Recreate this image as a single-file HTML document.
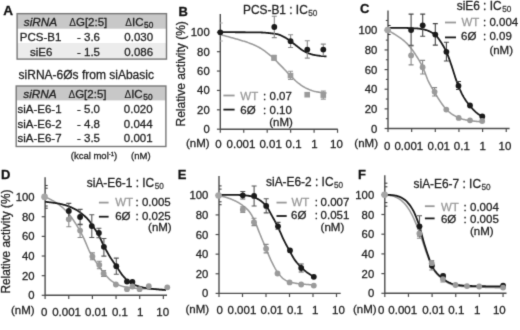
<!DOCTYPE html>
<html><head><meta charset="utf-8"><style>
html,body{margin:0;padding:0;background:#fff;}
svg{display:block;font-family:"Liberation Sans", sans-serif;will-change:transform;}
text{stroke:currentColor;stroke-width:0.28px;}
</style></head><body>
<svg width="520" height="330" viewBox="0 0 520 330">
<defs><filter id="soft" x="0" y="0" width="520" height="330" filterUnits="userSpaceOnUse" color-interpolation-filters="sRGB"><feConvolveMatrix order="3" kernelMatrix="1 6 1 6 36 6 1 6 1" divisor="64" edgeMode="duplicate"/></filter></defs>
<g filter="url(#soft)">
<rect width="520" height="330" fill="#fff"/>
<text x="3.3" y="15.1" font-size="13.6" text-anchor="start" fill="#111" color="#111" font-weight="bold">A</text>
<rect x="17.1" y="13.65" width="149.4" height="45.45" fill="#fff"/>
<rect x="17.1" y="13.65" width="149.4" height="15.05" fill="#c8c8c8"/>
<rect x="17.1" y="43" width="149.4" height="16.1" fill="#ececec"/>
<rect x="17.1" y="13.65" width="149.4" height="45.45" fill="none" stroke="#777" stroke-width="1.4"/>
<text x="40.5" y="25.7" font-size="11.8" text-anchor="middle" fill="#222" color="#222" font-style="italic">siRNA</text>
<text x="88.3" y="25.9" font-size="11.5" text-anchor="middle" fill="#222" color="#222" ><tspan font-size="10" style="stroke-width:0.1px">Δ</tspan>G[2:5]</text>
<text x="139.3" y="25.9" font-size="11.5" text-anchor="middle" fill="#222" color="#222" ><tspan font-size="10" style="stroke-width:0.1px">Δ</tspan>IC<tspan font-size="8.3" dx="0.6" dy="2.0">50</tspan></text>
<text x="40.6" y="40.7" font-size="11.5" text-anchor="middle" fill="#222" color="#222" >PCS-B1</text>
<text x="88.5" y="40.7" font-size="11.5" text-anchor="middle" fill="#222" color="#222" >- 3.6</text>
<text x="138.7" y="40.7" font-size="11.5" text-anchor="middle" fill="#222" color="#222" >0.030</text>
<text x="41.2" y="56.0" font-size="11.5" text-anchor="middle" fill="#222" color="#222" >siE6</text>
<text x="88.5" y="56.0" font-size="11.5" text-anchor="middle" fill="#222" color="#222" >- 1.5</text>
<text x="138.7" y="56.0" font-size="11.5" text-anchor="middle" fill="#222" color="#222" >0.086</text>
<text x="18.6" y="78.9" font-size="12" text-anchor="start" fill="#222" color="#222" >siRNA-6Øs from siAbasic</text>
<rect x="16.2" y="86" width="149.7" height="60.5" fill="#fff"/>
<rect x="16.2" y="86" width="149.7" height="14.4" fill="#c8c8c8"/>
<rect x="16.2" y="86" width="149.7" height="60.5" fill="none" stroke="#777" stroke-width="1.4"/>
<text x="40" y="97.5" font-size="11.8" text-anchor="middle" fill="#222" color="#222" font-style="italic">siRNA</text>
<text x="87.5" y="97.7" font-size="11.5" text-anchor="middle" fill="#222" color="#222" ><tspan font-size="10" style="stroke-width:0.1px">Δ</tspan>G[2:5]</text>
<text x="138.5" y="97.7" font-size="11.5" text-anchor="middle" fill="#222" color="#222" ><tspan font-size="10" style="stroke-width:0.1px">Δ</tspan>IC<tspan font-size="8.3" dx="0.6" dy="2.0">50</tspan></text>
<text x="39.5" y="113.3" font-size="11.5" text-anchor="middle" fill="#222" color="#222" >siA-E6-1</text>
<text x="88.5" y="113.3" font-size="11.5" text-anchor="middle" fill="#222" color="#222" >- 5.0</text>
<text x="138.2" y="113.3" font-size="11.5" text-anchor="middle" fill="#222" color="#222" >0.020</text>
<text x="39.5" y="127.7" font-size="11.5" text-anchor="middle" fill="#222" color="#222" >siA-E6-2</text>
<text x="88.5" y="127.7" font-size="11.5" text-anchor="middle" fill="#222" color="#222" >- 4.8</text>
<text x="138.2" y="127.7" font-size="11.5" text-anchor="middle" fill="#222" color="#222" >0.044</text>
<text x="39.5" y="142.1" font-size="11.5" text-anchor="middle" fill="#222" color="#222" >siA-E6-7</text>
<text x="88.5" y="142.1" font-size="11.5" text-anchor="middle" fill="#222" color="#222" >- 3.5</text>
<text x="138.2" y="142.1" font-size="11.5" text-anchor="middle" fill="#222" color="#222" >0.001</text>
<text x="94" y="159.2" font-size="9.5" text-anchor="middle" fill="#222" color="#222" >(kcal mol<tspan font-size="6" dy="-3.5">-1</tspan><tspan dy="3.5">)</tspan></text>
<text x="140.8" y="159.2" font-size="9.5" text-anchor="middle" fill="#222" color="#222" >(nM)</text>
<path d="M220.3 14.1V129.2H337.8" fill="none" stroke="#4d4d4d" stroke-width="1.4"/>
<path d="M216.9 129.20H220.3" stroke="#4d4d4d" stroke-width="1.2"/>
<text x="209.70000000000002" y="133.2" font-size="11.3" text-anchor="end" fill="#222" color="#222" >0</text>
<path d="M216.9 109.82H220.3" stroke="#4d4d4d" stroke-width="1.2"/>
<text x="209.70000000000002" y="113.82" font-size="11.3" text-anchor="end" fill="#222" color="#222" >20</text>
<path d="M216.9 90.44H220.3" stroke="#4d4d4d" stroke-width="1.2"/>
<text x="209.70000000000002" y="94.44" font-size="11.3" text-anchor="end" fill="#222" color="#222" >40</text>
<path d="M216.9 71.06H220.3" stroke="#4d4d4d" stroke-width="1.2"/>
<text x="209.70000000000002" y="75.06" font-size="11.3" text-anchor="end" fill="#222" color="#222" >60</text>
<path d="M216.9 51.68H220.3" stroke="#4d4d4d" stroke-width="1.2"/>
<text x="209.70000000000002" y="55.68000000000001" font-size="11.3" text-anchor="end" fill="#222" color="#222" >80</text>
<path d="M216.9 32.30H220.3" stroke="#4d4d4d" stroke-width="1.2"/>
<text x="209.70000000000002" y="36.3" font-size="11.3" text-anchor="end" fill="#222" color="#222" >100</text>
<path d="M220.30 129.2V132.79999999999998" stroke="#4d4d4d" stroke-width="1.2"/>
<path d="M243.75 129.2V132.79999999999998" stroke="#4d4d4d" stroke-width="1.2"/>
<path d="M267.20 129.2V132.79999999999998" stroke="#4d4d4d" stroke-width="1.2"/>
<path d="M290.65 129.2V132.79999999999998" stroke="#4d4d4d" stroke-width="1.2"/>
<path d="M314.10 129.2V132.79999999999998" stroke="#4d4d4d" stroke-width="1.2"/>
<path d="M337.55 129.2V132.79999999999998" stroke="#4d4d4d" stroke-width="1.2"/>
<text x="218.5" y="147.8" font-size="11.5" text-anchor="middle" fill="#222" color="#222" >0</text>
<text x="241" y="147.8" font-size="11.5" text-anchor="middle" fill="#222" color="#222" >0.001</text>
<text x="270.6" y="147.8" font-size="11.5" text-anchor="middle" fill="#222" color="#222" >0.01</text>
<text x="293.6" y="147.8" font-size="11.5" text-anchor="middle" fill="#222" color="#222" >0.1</text>
<text x="314.5" y="147.8" font-size="11.5" text-anchor="middle" fill="#222" color="#222" >1</text>
<text x="336.5" y="147.8" font-size="11.5" text-anchor="middle" fill="#222" color="#222" >10</text>
<text x="209.6" y="147.0" font-size="11.5" text-anchor="end" fill="#222" color="#222" >(nM)</text>
<text x="0" y="0" font-size="12" text-anchor="middle" fill="#222" color="#222" transform="translate(185.3,73.85) rotate(-90)">Relative activity (%)</text>
<path d="M220.3 23H222.9" stroke="#bbb" stroke-width="1.1"/>
<path d="M220.3 41H222.9" stroke="#bbb" stroke-width="1.1"/>
<path d="M220.30 34.60 L221.05 34.79 L221.80 34.99 L222.55 35.18 L223.30 35.38 L224.05 35.58 L224.80 35.78 L225.55 35.98 L226.30 36.18 L227.05 36.38 L227.80 36.59 L228.55 36.79 L229.30 37.00 L230.05 37.21 L230.80 37.42 L231.55 37.63 L232.30 37.84 L233.05 38.06 L233.80 38.27 L234.55 38.49 L235.30 38.70 L236.05 38.91 L236.80 39.12 L237.55 39.34 L238.30 39.55 L239.05 39.77 L239.80 39.99 L240.55 40.21 L241.30 40.43 L242.05 40.66 L242.80 40.89 L243.55 41.12 L244.30 41.35 L245.05 41.60 L245.80 41.84 L246.55 42.09 L247.30 42.35 L248.05 42.61 L248.80 42.88 L249.55 43.15 L250.30 43.43 L251.05 43.72 L251.80 44.01 L252.55 44.31 L253.30 44.62 L254.05 44.94 L254.80 45.27 L255.55 45.61 L256.30 45.96 L257.05 46.33 L257.80 46.70 L258.55 47.10 L259.30 47.53 L260.05 47.97 L260.80 48.43 L261.55 48.91 L262.30 49.40 L263.05 49.90 L263.80 50.41 L264.55 50.94 L265.30 51.49 L266.05 52.07 L266.80 52.66 L267.55 53.25 L268.30 53.85 L269.05 54.45 L269.80 55.03 L270.55 55.61 L271.30 56.19 L272.05 56.79 L272.80 57.42 L273.55 58.11 L274.30 58.86 L275.05 59.65 L275.80 60.46 L276.55 61.28 L277.30 62.08 L278.05 62.85 L278.80 63.61 L279.55 64.35 L280.30 65.10 L281.05 65.84 L281.80 66.60 L282.55 67.36 L283.30 68.14 L284.05 68.93 L284.80 69.72 L285.55 70.52 L286.30 71.32 L287.05 72.11 L287.80 72.91 L288.55 73.70 L289.30 74.48 L290.05 75.24 L290.80 76.00 L291.55 76.77 L292.30 77.54 L293.05 78.32 L293.80 79.08 L294.55 79.83 L295.30 80.55 L296.05 81.24 L296.80 81.89 L297.55 82.50 L298.30 83.08 L299.05 83.66 L299.80 84.22 L300.55 84.76 L301.30 85.29 L302.05 85.80 L302.80 86.29 L303.55 86.76 L304.30 87.20 L305.05 87.62 L305.80 88.01 L306.55 88.37 L307.30 88.72 L308.05 89.06 L308.80 89.39 L309.55 89.71 L310.30 90.02 L311.05 90.31 L311.80 90.59 L312.55 90.84 L313.30 91.07 L314.05 91.28 L314.80 91.46 L315.55 91.61 L316.30 91.74 L317.05 91.88 L317.80 92.01 L318.55 92.13 L319.30 92.25 L320.05 92.37 L320.80 92.47 L321.55 92.57 L322.30 92.66 L323.05 92.73 L323.80 92.79 L324.55 92.84 L325.30 92.88 L326.05 92.90 L326.50 92.90" fill="none" stroke="#999" stroke-width="1.55" stroke-linejoin="round"/>
<path d="M220.30 32.20 L221.05 32.20 L221.80 32.20 L222.55 32.20 L223.30 32.20 L224.05 32.20 L224.80 32.20 L225.55 32.20 L226.30 32.20 L227.05 32.21 L227.80 32.21 L228.55 32.21 L229.30 32.21 L230.05 32.21 L230.80 32.21 L231.55 32.22 L232.30 32.22 L233.05 32.22 L233.80 32.22 L234.55 32.22 L235.30 32.23 L236.05 32.23 L236.80 32.23 L237.55 32.24 L238.30 32.24 L239.05 32.24 L239.80 32.25 L240.55 32.25 L241.30 32.25 L242.05 32.26 L242.80 32.26 L243.55 32.26 L244.30 32.27 L245.05 32.27 L245.80 32.28 L246.55 32.28 L247.30 32.28 L248.05 32.29 L248.80 32.29 L249.55 32.30 L250.30 32.30 L251.05 32.31 L251.80 32.31 L252.55 32.32 L253.30 32.33 L254.05 32.34 L254.80 32.35 L255.55 32.36 L256.30 32.37 L257.05 32.38 L257.80 32.40 L258.55 32.41 L259.30 32.43 L260.05 32.45 L260.80 32.47 L261.55 32.49 L262.30 32.51 L263.05 32.54 L263.80 32.59 L264.55 32.64 L265.30 32.71 L266.05 32.78 L266.80 32.85 L267.55 32.93 L268.30 33.01 L269.05 33.10 L269.80 33.18 L270.55 33.26 L271.30 33.34 L272.05 33.42 L272.80 33.51 L273.55 33.60 L274.30 33.70 L275.05 33.80 L275.80 33.92 L276.55 34.05 L277.30 34.20 L278.05 34.38 L278.80 34.60 L279.55 34.87 L280.30 35.17 L281.05 35.49 L281.80 35.84 L282.55 36.21 L283.30 36.58 L284.05 36.97 L284.80 37.36 L285.55 37.78 L286.30 38.23 L287.05 38.71 L287.80 39.22 L288.55 39.74 L289.30 40.27 L290.05 40.81 L290.80 41.34 L291.55 41.90 L292.30 42.48 L293.05 43.08 L293.80 43.69 L294.55 44.30 L295.30 44.90 L296.05 45.50 L296.80 46.08 L297.55 46.65 L298.30 47.24 L299.05 47.83 L299.80 48.40 L300.55 48.96 L301.30 49.50 L302.05 50.00 L302.80 50.46 L303.55 50.89 L304.30 51.32 L305.05 51.72 L305.80 52.11 L306.55 52.47 L307.30 52.81 L308.05 53.12 L308.80 53.40 L309.55 53.66 L310.30 53.90 L311.05 54.14 L311.80 54.36 L312.55 54.57 L313.30 54.77 L314.05 54.94 L314.80 55.10 L315.55 55.23 L316.30 55.34 L317.05 55.45 L317.80 55.56 L318.55 55.66 L319.30 55.76 L320.05 55.85 L320.80 55.94 L321.55 56.02 L322.30 56.09 L323.05 56.16 L323.80 56.21 L324.55 56.25 L325.30 56.28 L326.05 56.30 L326.50 56.30" fill="none" stroke="#1a1a1a" stroke-width="1.8" stroke-linejoin="round"/>
<path d="M274.00 55.30V60.30M271.50 55.30H276.50M271.50 60.30H276.50" stroke="#999" stroke-width="1.1" fill="none"/>
<path d="M290.50 71.20V79.50M288.00 71.20H293.00M288.00 79.50H293.00" stroke="#999" stroke-width="1.1" fill="none"/>
<path d="M323.30 91.10V99.10M320.80 91.10H325.80M320.80 99.10H325.80" stroke="#999" stroke-width="1.1" fill="none"/>
<path d="M274.30 16.30V37.60M271.80 16.30H276.80M271.80 37.60H276.80" stroke="#8a8a8a" stroke-width="1.1" fill="none"/>
<path d="M290.60 34.70V47.50M288.10 34.70H293.10M288.10 47.50H293.10" stroke="#8a8a8a" stroke-width="1.1" fill="none"/>
<path d="M307.30 40.80V58.10M304.80 40.80H309.80M304.80 58.10H309.80" stroke="#8a8a8a" stroke-width="1.1" fill="none"/>
<path d="M323.30 44.10V55.50M320.80 44.10H325.80M320.80 55.50H325.80" stroke="#8a8a8a" stroke-width="1.1" fill="none"/>
<circle cx="220.30" cy="32.30" r="2.9" fill="#1a1a1a"/>
<circle cx="274.30" cy="27.00" r="2.9" fill="#1a1a1a"/>
<circle cx="290.60" cy="41.20" r="2.9" fill="#1a1a1a"/>
<circle cx="307.30" cy="49.60" r="2.9" fill="#1a1a1a"/>
<circle cx="323.30" cy="49.60" r="2.9" fill="#1a1a1a"/>
<rect x="271.20" y="55.00" width="5.6" height="5.6" fill="#9a9a9a"/>
<rect x="287.70" y="72.80" width="5.6" height="5.6" fill="#9a9a9a"/>
<rect x="304.40" y="91.90" width="5.6" height="5.6" fill="#9a9a9a"/>
<rect x="320.50" y="92.30" width="5.6" height="5.6" fill="#9a9a9a"/>
<text x="243" y="13.5" font-size="11.9" text-anchor="start" fill="#222" color="#222" >PCS-B1 : IC<tspan font-size="8.2" dx="0.5" dy="2.4" fill="#3a3a3a" color="#3a3a3a">50</tspan></text>
<text x="240.3" y="99.6" font-size="11.5" text-anchor="start" fill="#999" color="#999" >WT</text>
<text x="264.6" y="99.6" font-size="11.5" text-anchor="middle" fill="#222" color="#222" >:</text>
<text x="269.5" y="99.6" font-size="11.5" text-anchor="start" fill="#222" color="#222" >0.07</text>
<text x="240.3" y="113.9" font-size="11.5" text-anchor="start" fill="#222" color="#222" >6Ø</text>
<text x="264.6" y="113.9" font-size="11.5" text-anchor="middle" fill="#222" color="#222" >:</text>
<text x="269.5" y="113.9" font-size="11.5" text-anchor="start" fill="#222" color="#222" >0.10</text>
<text x="269.2" y="126.0" font-size="11.5" text-anchor="start" fill="#222" color="#222" >(nM)</text>
<path d="M223.4 95.5H234.6" stroke="#999" stroke-width="1.8"/>
<path d="M223.4 109.6H234.6" stroke="#1a1a1a" stroke-width="1.8"/>
<text x="178.6" y="16.3" font-size="13" text-anchor="start" fill="#111" color="#111" font-weight="bold">B</text>
<path d="M388.0 10.6V128.5H509.6" fill="none" stroke="#4d4d4d" stroke-width="1.4"/>
<path d="M384.6 128.50H388.0" stroke="#4d4d4d" stroke-width="1.2"/>
<text x="377.4" y="132.5" font-size="11.3" text-anchor="end" fill="#222" color="#222" >0</text>
<path d="M384.6 108.86H388.0" stroke="#4d4d4d" stroke-width="1.2"/>
<text x="377.4" y="112.86" font-size="11.3" text-anchor="end" fill="#222" color="#222" >20</text>
<path d="M384.6 89.22H388.0" stroke="#4d4d4d" stroke-width="1.2"/>
<text x="377.4" y="93.22" font-size="11.3" text-anchor="end" fill="#222" color="#222" >40</text>
<path d="M384.6 69.58H388.0" stroke="#4d4d4d" stroke-width="1.2"/>
<text x="377.4" y="73.58" font-size="11.3" text-anchor="end" fill="#222" color="#222" >60</text>
<path d="M384.6 49.94H388.0" stroke="#4d4d4d" stroke-width="1.2"/>
<text x="377.4" y="53.94" font-size="11.3" text-anchor="end" fill="#222" color="#222" >80</text>
<path d="M384.6 30.30H388.0" stroke="#4d4d4d" stroke-width="1.2"/>
<text x="377.4" y="34.3" font-size="11.3" text-anchor="end" fill="#222" color="#222" >100</text>
<path d="M385.8 118.68H388.0" stroke="#4d4d4d" stroke-width="1.1"/>
<path d="M385.8 99.04H388.0" stroke="#4d4d4d" stroke-width="1.1"/>
<path d="M385.8 79.40H388.0" stroke="#4d4d4d" stroke-width="1.1"/>
<path d="M385.8 59.76H388.0" stroke="#4d4d4d" stroke-width="1.1"/>
<path d="M385.8 40.12H388.0" stroke="#4d4d4d" stroke-width="1.1"/>
<path d="M385.8 20.48H388.0" stroke="#4d4d4d" stroke-width="1.1"/>
<path d="M388.00 128.5V132.1" stroke="#4d4d4d" stroke-width="1.2"/>
<path d="M411.65 128.5V132.1" stroke="#4d4d4d" stroke-width="1.2"/>
<path d="M435.30 128.5V132.1" stroke="#4d4d4d" stroke-width="1.2"/>
<path d="M458.95 128.5V132.1" stroke="#4d4d4d" stroke-width="1.2"/>
<path d="M482.60 128.5V132.1" stroke="#4d4d4d" stroke-width="1.2"/>
<path d="M506.25 128.5V132.1" stroke="#4d4d4d" stroke-width="1.2"/>
<text x="387.2" y="149.7" font-size="11.5" text-anchor="middle" fill="#222" color="#222" >0</text>
<text x="408.8" y="149.7" font-size="11.5" text-anchor="middle" fill="#222" color="#222" >0.001</text>
<text x="438.8" y="149.7" font-size="11.5" text-anchor="middle" fill="#222" color="#222" >0.01</text>
<text x="461.8" y="149.7" font-size="11.5" text-anchor="middle" fill="#222" color="#222" >0.1</text>
<text x="482.8" y="149.7" font-size="11.5" text-anchor="middle" fill="#222" color="#222" >1</text>
<text x="504.9" y="149.7" font-size="11.5" text-anchor="middle" fill="#222" color="#222" >10</text>
<text x="378.0" y="146.6" font-size="11.5" text-anchor="end" fill="#222" color="#222" >(nM)</text>
<path d="M388.0 25.5H390.6" stroke="#333" stroke-width="1.1"/>
<path d="M388.0 34.5H390.6" stroke="#333" stroke-width="1.1"/>
<path d="M387.80 30.20 L388.55 30.62 L389.30 31.04 L390.05 31.48 L390.80 31.91 L391.55 32.36 L392.30 32.81 L393.05 33.26 L393.80 33.72 L394.55 34.19 L395.30 34.65 L396.05 35.12 L396.80 35.59 L397.55 36.07 L398.30 36.56 L399.05 37.06 L399.80 37.58 L400.55 38.12 L401.30 38.68 L402.05 39.25 L402.80 39.85 L403.55 40.46 L404.30 41.10 L405.05 41.76 L405.80 42.45 L406.55 43.16 L407.30 43.90 L408.05 44.69 L408.80 45.52 L409.55 46.39 L410.30 47.29 L411.05 48.23 L411.80 49.20 L412.55 50.20 L413.30 51.26 L414.05 52.35 L414.80 53.48 L415.55 54.63 L416.30 55.80 L417.05 56.98 L417.80 58.18 L418.55 59.41 L419.30 60.68 L420.05 62.00 L420.80 63.40 L421.55 64.89 L422.30 66.47 L423.05 68.14 L423.80 69.86 L424.55 71.62 L425.30 73.52 L426.05 75.55 L426.80 77.58 L427.55 79.48 L428.30 81.14 L429.05 82.66 L429.80 84.10 L430.55 85.47 L431.30 86.78 L432.05 88.06 L432.80 89.32 L433.55 90.57 L434.30 91.83 L435.05 93.11 L435.80 94.38 L436.55 95.64 L437.30 96.89 L438.05 98.11 L438.80 99.29 L439.55 100.44 L440.30 101.54 L441.05 102.63 L441.80 103.71 L442.55 104.76 L443.30 105.79 L444.05 106.78 L444.80 107.72 L445.55 108.60 L446.30 109.40 L447.05 110.13 L447.80 110.83 L448.55 111.49 L449.30 112.12 L450.05 112.71 L450.80 113.27 L451.55 113.81 L452.30 114.31 L453.05 114.79 L453.80 115.26 L454.55 115.70 L455.30 116.12 L456.05 116.52 L456.80 116.89 L457.55 117.25 L458.30 117.58 L459.05 117.88 L459.80 118.17 L460.55 118.45 L461.30 118.71 L462.05 118.96 L462.80 119.18 L463.55 119.39 L464.30 119.57 L465.05 119.74 L465.80 119.90 L466.55 120.05 L467.30 120.19 L468.05 120.32 L468.80 120.44 L469.55 120.55 L470.30 120.65 L471.05 120.75 L471.80 120.85 L472.55 120.94 L473.30 121.03 L474.05 121.12 L474.80 121.21 L475.55 121.29 L476.30 121.37 L477.05 121.44 L477.80 121.51 L478.55 121.57 L479.30 121.63 L480.05 121.68 L480.80 121.73 L481.55 121.77 L482.30 121.80 L482.40 121.80" fill="none" stroke="#999" stroke-width="1.55" stroke-linejoin="round"/>
<path d="M387.80 27.90 L388.55 27.90 L389.30 27.90 L390.05 27.90 L390.80 27.90 L391.55 27.90 L392.30 27.90 L393.05 27.90 L393.80 27.90 L394.55 27.90 L395.30 27.90 L396.05 27.90 L396.80 27.90 L397.55 27.90 L398.30 27.90 L399.05 27.90 L399.80 27.90 L400.55 27.90 L401.30 27.90 L402.05 27.90 L402.80 27.91 L403.55 27.91 L404.30 27.93 L405.05 27.94 L405.80 27.95 L406.55 27.97 L407.30 27.99 L408.05 28.02 L408.80 28.04 L409.55 28.07 L410.30 28.10 L411.05 28.13 L411.80 28.16 L412.55 28.20 L413.30 28.24 L414.05 28.28 L414.80 28.32 L415.55 28.36 L416.30 28.40 L417.05 28.45 L417.80 28.52 L418.55 28.60 L419.30 28.69 L420.05 28.79 L420.80 28.91 L421.55 29.04 L422.30 29.18 L423.05 29.33 L423.80 29.48 L424.55 29.65 L425.30 29.83 L426.05 30.01 L426.80 30.23 L427.55 30.50 L428.30 30.81 L429.05 31.15 L429.80 31.52 L430.55 31.90 L431.30 32.29 L432.05 32.69 L432.80 33.11 L433.55 33.57 L434.30 34.07 L435.05 34.63 L435.80 35.27 L436.55 36.04 L437.30 36.94 L438.05 37.93 L438.80 38.98 L439.55 40.09 L440.30 41.20 L441.05 42.32 L441.80 43.48 L442.55 44.67 L443.30 45.92 L444.05 47.23 L444.80 48.60 L445.55 50.05 L446.30 51.59 L447.05 53.25 L447.80 55.09 L448.55 57.06 L449.30 59.14 L450.05 61.28 L450.80 63.46 L451.55 65.65 L452.30 67.91 L453.05 70.28 L453.80 72.70 L454.55 75.10 L455.30 77.41 L456.05 79.61 L456.80 81.77 L457.55 83.84 L458.30 85.74 L459.05 87.55 L459.80 89.30 L460.55 90.99 L461.30 92.60 L462.05 94.13 L462.80 95.56 L463.55 96.89 L464.30 98.13 L465.05 99.30 L465.80 100.43 L466.55 101.50 L467.30 102.52 L468.05 103.50 L468.80 104.46 L469.55 105.38 L470.30 106.28 L471.05 107.16 L471.80 108.02 L472.55 108.86 L473.30 109.66 L474.05 110.43 L474.80 111.16 L475.55 111.84 L476.30 112.48 L477.05 113.09 L477.80 113.68 L478.55 114.24 L479.30 114.78 L480.05 115.29 L480.80 115.78 L481.55 116.23 L482.30 116.64 L483.00 117.00" fill="none" stroke="#1a1a1a" stroke-width="1.8" stroke-linejoin="round"/>
<path d="M411.10 46.00V64.90M408.60 46.00H413.60M408.60 64.90H413.60" stroke="#888" stroke-width="1.1" fill="none"/>
<path d="M422.60 60.40V74.00M420.10 60.40H425.10M420.10 74.00H425.10" stroke="#888" stroke-width="1.1" fill="none"/>
<path d="M434.60 87.60V96.00M432.10 87.60H437.10M432.10 96.00H437.10" stroke="#888" stroke-width="1.1" fill="none"/>
<path d="M411.10 14.10V45.30M408.60 14.10H413.60M408.60 45.30H413.60" stroke="#444" stroke-width="1.1" fill="none"/>
<path d="M422.70 14.10V36.20M420.20 14.10H425.20M420.20 36.20H425.20" stroke="#444" stroke-width="1.1" fill="none"/>
<path d="M435.30 23.60V45.10M432.80 23.60H437.80M432.80 45.10H437.80" stroke="#444" stroke-width="1.1" fill="none"/>
<path d="M446.40 42.20V61.00M443.90 42.20H448.90M443.90 61.00H448.90" stroke="#444" stroke-width="1.1" fill="none"/>
<path d="M458.50 81.50V89.50M456.00 81.50H461.00M456.00 89.50H461.00" stroke="#444" stroke-width="1.1" fill="none"/>
<circle cx="411.10" cy="30.10" r="2.9" fill="#1a1a1a"/>
<circle cx="422.70" cy="25.30" r="2.9" fill="#1a1a1a"/>
<circle cx="435.30" cy="34.60" r="2.9" fill="#1a1a1a"/>
<circle cx="446.40" cy="51.80" r="2.9" fill="#1a1a1a"/>
<circle cx="458.50" cy="85.80" r="2.9" fill="#1a1a1a"/>
<circle cx="470.00" cy="105.50" r="2.9" fill="#1a1a1a"/>
<circle cx="482.30" cy="116.50" r="2.9" fill="#1a1a1a"/>
<circle cx="411.10" cy="55.40" r="2.9" fill="#9a9a9a"/>
<circle cx="422.60" cy="67.20" r="2.9" fill="#9a9a9a"/>
<circle cx="434.60" cy="91.80" r="2.9" fill="#9a9a9a"/>
<circle cx="446.30" cy="109.60" r="2.9" fill="#9a9a9a"/>
<circle cx="458.70" cy="117.90" r="2.9" fill="#9a9a9a"/>
<circle cx="470.00" cy="120.30" r="2.9" fill="#9a9a9a"/>
<circle cx="482.20" cy="121.00" r="2.9" fill="#9a9a9a"/>
<circle cx="387.70" cy="30.00" r="3.3" fill="#a6a6a6"/>
<text x="456.7" y="9.7" font-size="11.9" text-anchor="start" fill="#222" color="#222" >siE6 : IC<tspan font-size="8.2" dx="0.5" dy="2.4" fill="#3a3a3a" color="#3a3a3a">50</tspan></text>
<text x="461.5" y="26.2" font-size="11.5" text-anchor="start" fill="#999" color="#999" >WT</text>
<text x="484.6" y="26.2" font-size="11.5" text-anchor="middle" fill="#222" color="#222" >:</text>
<text x="489.4" y="26.2" font-size="11.5" text-anchor="start" fill="#222" color="#222" >0.004</text>
<text x="461" y="40" font-size="11.5" text-anchor="start" fill="#222" color="#222" >6Ø</text>
<text x="484.6" y="40" font-size="11.5" text-anchor="middle" fill="#222" color="#222" >:</text>
<text x="489.4" y="40" font-size="11.5" text-anchor="start" fill="#222" color="#222" >0.09</text>
<text x="489.4" y="54" font-size="11.5" text-anchor="start" fill="#222" color="#222" >(nM)</text>
<path d="M445 22.5H456" stroke="#999" stroke-width="1.8"/>
<path d="M445 37.4H456" stroke="#1a1a1a" stroke-width="1.8"/>
<text x="360" y="13" font-size="13" text-anchor="start" fill="#111" color="#111" font-weight="bold">C</text>
<path d="M45.1 177.2V295.3H167" fill="none" stroke="#4d4d4d" stroke-width="1.4"/>
<path d="M41.7 295.30H45.1" stroke="#4d4d4d" stroke-width="1.2"/>
<text x="34.5" y="299.3" font-size="11.3" text-anchor="end" fill="#222" color="#222" >0</text>
<path d="M41.7 275.66H45.1" stroke="#4d4d4d" stroke-width="1.2"/>
<text x="34.5" y="279.66" font-size="11.3" text-anchor="end" fill="#222" color="#222" >20</text>
<path d="M41.7 256.02H45.1" stroke="#4d4d4d" stroke-width="1.2"/>
<text x="34.5" y="260.02" font-size="11.3" text-anchor="end" fill="#222" color="#222" >40</text>
<path d="M41.7 236.38H45.1" stroke="#4d4d4d" stroke-width="1.2"/>
<text x="34.5" y="240.38" font-size="11.3" text-anchor="end" fill="#222" color="#222" >60</text>
<path d="M41.7 216.74H45.1" stroke="#4d4d4d" stroke-width="1.2"/>
<text x="34.5" y="220.74" font-size="11.3" text-anchor="end" fill="#222" color="#222" >80</text>
<path d="M41.7 197.10H45.1" stroke="#4d4d4d" stroke-width="1.2"/>
<text x="34.5" y="201.1" font-size="11.3" text-anchor="end" fill="#222" color="#222" >100</text>
<path d="M45.10 295.3V298.90000000000003" stroke="#4d4d4d" stroke-width="1.2"/>
<path d="M68.75 295.3V298.90000000000003" stroke="#4d4d4d" stroke-width="1.2"/>
<path d="M92.40 295.3V298.90000000000003" stroke="#4d4d4d" stroke-width="1.2"/>
<path d="M116.05 295.3V298.90000000000003" stroke="#4d4d4d" stroke-width="1.2"/>
<path d="M139.70 295.3V298.90000000000003" stroke="#4d4d4d" stroke-width="1.2"/>
<path d="M163.35 295.3V298.90000000000003" stroke="#4d4d4d" stroke-width="1.2"/>
<text x="44.3" y="316.3" font-size="11.5" text-anchor="middle" fill="#222" color="#222" >0</text>
<text x="66.6" y="316.3" font-size="11.5" text-anchor="middle" fill="#222" color="#222" >0.001</text>
<text x="96.2" y="316.3" font-size="11.5" text-anchor="middle" fill="#222" color="#222" >0.01</text>
<text x="119.9" y="316.3" font-size="11.5" text-anchor="middle" fill="#222" color="#222" >0.1</text>
<text x="140.2" y="316.3" font-size="11.5" text-anchor="middle" fill="#222" color="#222" >1</text>
<text x="162.7" y="316.3" font-size="11.5" text-anchor="middle" fill="#222" color="#222" >10</text>
<text x="34.6" y="313.5" font-size="11.5" text-anchor="end" fill="#222" color="#222" >(nM)</text>
<text x="0" y="0" font-size="11.85" text-anchor="middle" fill="#222" color="#222" transform="translate(10.1,241.6) rotate(-90)">Relative activity (%)</text>
<path d="M45.1 185.5H47.7" stroke="#444" stroke-width="1.1"/>
<path d="M45.1 188.2H47.7" stroke="#444" stroke-width="1.1"/>
<path d="M45.1 206H47.7" stroke="#444" stroke-width="1.1"/>
<path d="M45.1 208.2H47.7" stroke="#444" stroke-width="1.1"/>
<path d="M45.10 197.00 L45.85 197.30 L46.60 197.61 L47.35 197.93 L48.10 198.27 L48.85 198.63 L49.60 198.99 L50.35 199.37 L51.10 199.76 L51.85 200.16 L52.60 200.58 L53.35 201.01 L54.10 201.45 L54.85 201.90 L55.60 202.37 L56.35 202.86 L57.10 203.36 L57.85 203.88 L58.60 204.41 L59.35 204.96 L60.10 205.53 L60.85 206.12 L61.60 206.73 L62.35 207.37 L63.10 208.03 L63.85 208.73 L64.60 209.46 L65.35 210.21 L66.10 210.99 L66.85 211.80 L67.60 212.63 L68.35 213.48 L69.10 214.35 L69.85 215.28 L70.60 216.25 L71.35 217.27 L72.10 218.32 L72.85 219.40 L73.60 220.50 L74.35 221.62 L75.10 222.76 L75.85 223.92 L76.60 225.13 L77.35 226.37 L78.10 227.63 L78.85 228.93 L79.60 230.26 L80.35 231.61 L81.10 232.99 L81.85 234.41 L82.60 235.87 L83.35 237.37 L84.10 238.92 L84.85 240.58 L85.60 242.35 L86.35 244.17 L87.10 246.00 L87.85 247.80 L88.60 249.52 L89.35 251.12 L90.10 252.56 L90.85 253.91 L91.60 255.20 L92.35 256.44 L93.10 257.63 L93.85 258.79 L94.60 259.92 L95.35 261.03 L96.10 262.11 L96.85 263.20 L97.60 264.28 L98.35 265.36 L99.10 266.45 L99.85 267.52 L100.60 268.57 L101.35 269.61 L102.10 270.63 L102.85 271.61 L103.60 272.56 L104.35 273.48 L105.10 274.38 L105.85 275.28 L106.60 276.16 L107.35 277.01 L108.10 277.82 L108.85 278.59 L109.60 279.31 L110.35 279.96 L111.10 280.56 L111.85 281.13 L112.60 281.67 L113.35 282.18 L114.10 282.67 L114.85 283.12 L115.60 283.54 L116.35 283.93 L117.10 284.29 L117.85 284.63 L118.60 284.96 L119.35 285.28 L120.10 285.57 L120.85 285.84 L121.60 286.08 L122.35 286.31 L123.10 286.50 L123.85 286.69 L124.60 286.86 L125.35 287.02 L126.10 287.17 L126.85 287.31 L127.60 287.43 L128.35 287.54 L129.10 287.64 L129.85 287.73 L130.60 287.81 L131.35 287.89 L132.10 287.96 L132.85 288.02 L133.60 288.09 L134.35 288.15 L135.10 288.20 L135.85 288.26 L136.60 288.31 L137.35 288.36 L138.10 288.40 L138.85 288.45 L139.60 288.49 L140.35 288.54 L141.10 288.58 L141.85 288.62 L142.60 288.66 L143.35 288.70 L144.10 288.73 L144.85 288.77 L145.60 288.80 L146.35 288.84 L147.10 288.87 L147.85 288.91 L148.60 288.94 L149.35 288.97 L150.10 289.00 L150.85 289.04 L151.60 289.07 L152.35 289.10 L153.10 289.13 L153.85 289.16 L154.60 289.19 L155.35 289.22 L156.10 289.25 L156.85 289.28 L157.60 289.31 L158.35 289.34 L159.10 289.37 L159.85 289.40 L160.60 289.42 L161.35 289.45 L162.10 289.48 L162.85 289.50 L163.60 289.53 L164.35 289.55 L165.10 289.57 L165.85 289.60 L166.00 289.60" fill="none" stroke="#999" stroke-width="1.55" stroke-linejoin="round"/>
<path d="M45.10 201.80 L45.85 201.87 L46.60 201.95 L47.35 202.02 L48.10 202.11 L48.85 202.19 L49.60 202.28 L50.35 202.37 L51.10 202.47 L51.85 202.57 L52.60 202.67 L53.35 202.77 L54.10 202.87 L54.85 202.98 L55.60 203.09 L56.35 203.21 L57.10 203.33 L57.85 203.46 L58.60 203.59 L59.35 203.73 L60.10 203.87 L60.85 204.03 L61.60 204.19 L62.35 204.37 L63.10 204.56 L63.85 204.76 L64.60 204.98 L65.35 205.21 L66.10 205.46 L66.85 205.71 L67.60 205.97 L68.35 206.24 L69.10 206.51 L69.85 206.80 L70.60 207.10 L71.35 207.42 L72.10 207.76 L72.85 208.11 L73.60 208.47 L74.35 208.85 L75.10 209.24 L75.85 209.65 L76.60 210.07 L77.35 210.52 L78.10 211.00 L78.85 211.51 L79.60 212.04 L80.35 212.60 L81.10 213.17 L81.85 213.76 L82.60 214.36 L83.35 214.98 L84.10 215.62 L84.85 216.29 L85.60 216.98 L86.35 217.70 L87.10 218.47 L87.85 219.27 L88.60 220.12 L89.35 221.06 L90.10 222.09 L90.85 223.19 L91.60 224.31 L92.35 225.43 L93.10 226.52 L93.85 227.61 L94.60 228.71 L95.35 229.83 L96.10 230.97 L96.85 232.15 L97.60 233.38 L98.35 234.66 L99.10 236.05 L99.85 237.53 L100.60 239.08 L101.35 240.66 L102.10 242.25 L102.85 243.82 L103.60 245.34 L104.35 246.78 L105.10 248.19 L105.85 249.58 L106.60 250.95 L107.35 252.30 L108.10 253.63 L108.85 254.93 L109.60 256.19 L110.35 257.42 L111.10 258.61 L111.85 259.76 L112.60 260.87 L113.35 261.97 L114.10 263.05 L114.85 264.12 L115.60 265.20 L116.35 266.28 L117.10 267.39 L117.85 268.53 L118.60 269.69 L119.35 270.84 L120.10 271.97 L120.85 273.06 L121.60 274.10 L122.35 275.08 L123.10 275.97 L123.85 276.84 L124.60 277.69 L125.35 278.51 L126.10 279.28 L126.85 280.01 L127.60 280.67 L128.35 281.27 L129.10 281.81 L129.85 282.30 L130.60 282.77 L131.35 283.22 L132.10 283.64 L132.85 284.03 L133.60 284.40 L134.35 284.75 L135.10 285.07 L135.85 285.36 L136.60 285.63 L137.35 285.89 L138.10 286.13 L138.85 286.37 L139.60 286.59 L140.35 286.80 L141.10 287.00 L141.85 287.19 L142.60 287.37 L143.35 287.53 L144.10 287.69 L144.85 287.83 L145.60 287.97 L146.35 288.09 L147.10 288.21 L147.85 288.32 L148.60 288.43 L149.35 288.53 L150.10 288.62 L150.85 288.72 L151.60 288.80 L152.35 288.89 L153.10 288.97 L153.85 289.05 L154.60 289.12 L155.35 289.19 L156.10 289.26 L156.85 289.33 L157.60 289.40 L158.35 289.46 L159.10 289.53 L159.85 289.59 L160.60 289.65 L161.35 289.71 L162.10 289.76 L162.85 289.81 L163.60 289.86 L164.35 289.91 L165.10 289.95 L165.85 289.99 L166.00 290.00" fill="none" stroke="#1a1a1a" stroke-width="1.8" stroke-linejoin="round"/>
<path d="M68.80 212.00V226.80M66.30 212.00H71.30M66.30 226.80H71.30" stroke="#888" stroke-width="1.1" fill="none"/>
<path d="M80.10 224.00V237.50M77.60 224.00H82.60M77.60 237.50H82.60" stroke="#888" stroke-width="1.1" fill="none"/>
<path d="M92.40 252.90V259.70M89.90 252.90H94.90M89.90 259.70H94.90" stroke="#888" stroke-width="1.1" fill="none"/>
<path d="M99.30 261.20V268.80M96.80 261.20H101.80M96.80 268.80H101.80" stroke="#888" stroke-width="1.1" fill="none"/>
<path d="M103.60 270.50V276.50M101.10 270.50H106.10M101.10 276.50H106.10" stroke="#888" stroke-width="1.1" fill="none"/>
<path d="M68.80 203.40V218.40M66.30 203.40H71.30M66.30 218.40H71.30" stroke="#555" stroke-width="1.1" fill="none"/>
<path d="M80.10 209.40V224.60M77.60 209.40H82.60M77.60 224.60H82.60" stroke="#555" stroke-width="1.1" fill="none"/>
<path d="M91.80 214.70V237.50M89.30 214.70H94.30M89.30 237.50H94.30" stroke="#555" stroke-width="1.1" fill="none"/>
<path d="M98.90 228.30V237.70M96.40 228.30H101.40M96.40 237.70H101.40" stroke="#555" stroke-width="1.1" fill="none"/>
<path d="M103.90 238.50V256.10M101.40 238.50H106.40M101.40 256.10H106.40" stroke="#555" stroke-width="1.1" fill="none"/>
<path d="M116.30 258.10V274.20M113.80 258.10H118.80M113.80 274.20H118.80" stroke="#555" stroke-width="1.1" fill="none"/>
<circle cx="68.80" cy="210.90" r="2.9" fill="#1a1a1a"/>
<circle cx="80.10" cy="217.00" r="2.9" fill="#1a1a1a"/>
<circle cx="91.80" cy="226.10" r="2.9" fill="#1a1a1a"/>
<circle cx="98.90" cy="233.00" r="2.9" fill="#1a1a1a"/>
<circle cx="103.90" cy="246.80" r="2.9" fill="#1a1a1a"/>
<circle cx="116.30" cy="266.20" r="2.9" fill="#1a1a1a"/>
<circle cx="127.00" cy="281.50" r="2.9" fill="#1a1a1a"/>
<circle cx="132.40" cy="281.90" r="2.9" fill="#1a1a1a"/>
<circle cx="68.80" cy="219.30" r="2.9" fill="#9a9a9a"/>
<circle cx="80.10" cy="230.60" r="2.9" fill="#9a9a9a"/>
<circle cx="92.40" cy="256.40" r="2.9" fill="#9a9a9a"/>
<circle cx="99.30" cy="265.00" r="2.9" fill="#9a9a9a"/>
<circle cx="103.60" cy="273.50" r="2.9" fill="#9a9a9a"/>
<circle cx="115.90" cy="284.50" r="2.9" fill="#9a9a9a"/>
<circle cx="127.00" cy="289.20" r="2.9" fill="#9a9a9a"/>
<circle cx="132.40" cy="286.50" r="2.9" fill="#9a9a9a"/>
<circle cx="139.60" cy="289.20" r="2.9" fill="#9a9a9a"/>
<circle cx="148.80" cy="286.20" r="2.9" fill="#9a9a9a"/>
<circle cx="167.30" cy="287.30" r="2.9" fill="#9a9a9a"/>
<circle cx="44.60" cy="196.90" r="3.3" fill="#a6a6a6"/>
<text x="86.8" y="186.8" font-size="11.9" text-anchor="start" fill="#222" color="#222" >siA-E6-1 : IC<tspan font-size="8.2" dx="0.5" dy="2.4" fill="#3a3a3a" color="#3a3a3a">50</tspan></text>
<text x="115.2" y="205.5" font-size="11.5" text-anchor="start" fill="#999" color="#999" >WT</text>
<text x="137" y="205.5" font-size="11.5" text-anchor="middle" fill="#222" color="#222" >:</text>
<text x="141.9" y="205.5" font-size="11.5" text-anchor="start" fill="#222" color="#222" >0.005</text>
<text x="115.2" y="219.6" font-size="11.5" text-anchor="start" fill="#222" color="#222" >6Ø</text>
<text x="137" y="219.6" font-size="11.5" text-anchor="middle" fill="#222" color="#222" >:</text>
<text x="141.9" y="219.6" font-size="11.5" text-anchor="start" fill="#222" color="#222" >0.025</text>
<text x="171.7" y="230.5" font-size="11.5" text-anchor="end" fill="#222" color="#222" >(nM)</text>
<path d="M98.9 202.6H108.6" stroke="#999" stroke-width="1.8"/>
<path d="M98.9 216.7H108.6" stroke="#1a1a1a" stroke-width="1.8"/>
<text x="1" y="178.8" font-size="13" text-anchor="start" fill="#111" color="#111" font-weight="bold">D</text>
<path d="M219.0 175.9V293.4H340.7" fill="none" stroke="#4d4d4d" stroke-width="1.4"/>
<path d="M215.6 293.40H219.0" stroke="#4d4d4d" stroke-width="1.2"/>
<text x="208.4" y="297.4" font-size="11.3" text-anchor="end" fill="#222" color="#222" >0</text>
<path d="M215.6 273.78H219.0" stroke="#4d4d4d" stroke-width="1.2"/>
<text x="208.4" y="277.78" font-size="11.3" text-anchor="end" fill="#222" color="#222" >20</text>
<path d="M215.6 254.16H219.0" stroke="#4d4d4d" stroke-width="1.2"/>
<text x="208.4" y="258.15999999999997" font-size="11.3" text-anchor="end" fill="#222" color="#222" >40</text>
<path d="M215.6 234.54H219.0" stroke="#4d4d4d" stroke-width="1.2"/>
<text x="208.4" y="238.54" font-size="11.3" text-anchor="end" fill="#222" color="#222" >60</text>
<path d="M215.6 214.92H219.0" stroke="#4d4d4d" stroke-width="1.2"/>
<text x="208.4" y="218.92000000000002" font-size="11.3" text-anchor="end" fill="#222" color="#222" >80</text>
<path d="M215.6 195.30H219.0" stroke="#4d4d4d" stroke-width="1.2"/>
<text x="208.4" y="199.3" font-size="11.3" text-anchor="end" fill="#222" color="#222" >100</text>
<path d="M219.00 293.4V297.0" stroke="#4d4d4d" stroke-width="1.2"/>
<path d="M242.50 293.4V297.0" stroke="#4d4d4d" stroke-width="1.2"/>
<path d="M266.00 293.4V297.0" stroke="#4d4d4d" stroke-width="1.2"/>
<path d="M289.50 293.4V297.0" stroke="#4d4d4d" stroke-width="1.2"/>
<path d="M313.00 293.4V297.0" stroke="#4d4d4d" stroke-width="1.2"/>
<path d="M336.50 293.4V297.0" stroke="#4d4d4d" stroke-width="1.2"/>
<text x="219.8" y="313.8" font-size="11.5" text-anchor="middle" fill="#222" color="#222" >0</text>
<text x="241.9" y="313.8" font-size="11.5" text-anchor="middle" fill="#222" color="#222" >0.001</text>
<text x="271.8" y="313.8" font-size="11.5" text-anchor="middle" fill="#222" color="#222" >0.01</text>
<text x="295" y="313.8" font-size="11.5" text-anchor="middle" fill="#222" color="#222" >0.1</text>
<text x="315.2" y="313.8" font-size="11.5" text-anchor="middle" fill="#222" color="#222" >1</text>
<text x="338.5" y="313.8" font-size="11.5" text-anchor="middle" fill="#222" color="#222" >10</text>
<text x="209.1" y="312.5" font-size="11.5" text-anchor="end" fill="#222" color="#222" >(nM)</text>
<path d="M219.0 185.9H221.6" stroke="#444" stroke-width="1.1"/>
<path d="M219.0 189.1H221.6" stroke="#444" stroke-width="1.1"/>
<path d="M219.0 201.8H221.6" stroke="#444" stroke-width="1.1"/>
<path d="M219.0 204.7H221.6" stroke="#444" stroke-width="1.1"/>
<path d="M219.00 195.60 L219.75 195.75 L220.50 195.91 L221.25 196.09 L222.00 196.27 L222.75 196.46 L223.50 196.65 L224.25 196.86 L225.00 197.07 L225.75 197.29 L226.50 197.52 L227.25 197.76 L228.00 198.00 L228.75 198.26 L229.50 198.52 L230.25 198.80 L231.00 199.09 L231.75 199.38 L232.50 199.69 L233.25 200.01 L234.00 200.34 L234.75 200.69 L235.50 201.05 L236.25 201.42 L237.00 201.83 L237.75 202.25 L238.50 202.69 L239.25 203.16 L240.00 203.64 L240.75 204.14 L241.50 204.66 L242.25 205.20 L243.00 205.75 L243.75 206.31 L244.50 206.90 L245.25 207.51 L246.00 208.15 L246.75 208.84 L247.50 209.58 L248.25 210.37 L249.00 211.24 L249.75 212.21 L250.50 213.30 L251.25 214.48 L252.00 215.76 L252.75 217.11 L253.50 218.53 L254.25 220.00 L255.00 221.55 L255.75 223.29 L256.50 225.17 L257.25 227.14 L258.00 229.13 L258.75 231.11 L259.50 233.00 L260.25 234.83 L261.00 236.65 L261.75 238.46 L262.50 240.25 L263.25 242.04 L264.00 243.83 L264.75 245.61 L265.50 247.38 L266.25 249.16 L267.00 250.96 L267.75 252.78 L268.50 254.60 L269.25 256.40 L270.00 258.15 L270.75 259.82 L271.50 261.40 L272.25 262.91 L273.00 264.40 L273.75 265.85 L274.50 267.26 L275.25 268.61 L276.00 269.89 L276.75 271.09 L277.50 272.19 L278.25 273.20 L279.00 274.18 L279.75 275.11 L280.50 276.00 L281.25 276.83 L282.00 277.60 L282.75 278.28 L283.50 278.89 L284.25 279.41 L285.00 279.89 L285.75 280.34 L286.50 280.76 L287.25 281.13 L288.00 281.46 L288.75 281.73 L289.50 281.95 L290.25 282.15 L291.00 282.34 L291.75 282.51 L292.50 282.68 L293.25 282.83 L294.00 282.98 L294.75 283.11 L295.50 283.24 L296.25 283.36 L297.00 283.47 L297.75 283.58 L298.50 283.67 L299.25 283.76 L300.00 283.85 L300.75 283.93 L301.50 284.00 L302.25 284.07 L303.00 284.14 L303.75 284.21 L304.50 284.28 L305.25 284.34 L306.00 284.40 L306.75 284.46 L307.50 284.52 L308.25 284.57 L309.00 284.62 L309.75 284.66 L310.50 284.70 L311.25 284.73 L312.00 284.76 L312.75 284.78 L313.50 284.80 L313.80 284.80" fill="none" stroke="#999" stroke-width="1.55" stroke-linejoin="round"/>
<path d="M219.00 194.80 L219.75 194.80 L220.50 194.80 L221.25 194.80 L222.00 194.80 L222.75 194.80 L223.50 194.80 L224.25 194.80 L225.00 194.80 L225.75 194.80 L226.50 194.80 L227.25 194.80 L228.00 194.80 L228.75 194.80 L229.50 194.80 L230.25 194.80 L231.00 194.80 L231.75 194.80 L232.50 194.80 L233.25 194.81 L234.00 194.82 L234.75 194.83 L235.50 194.85 L236.25 194.87 L237.00 194.90 L237.75 194.93 L238.50 194.97 L239.25 195.00 L240.00 195.04 L240.75 195.08 L241.50 195.12 L242.25 195.17 L243.00 195.21 L243.75 195.26 L244.50 195.32 L245.25 195.39 L246.00 195.47 L246.75 195.56 L247.50 195.66 L248.25 195.76 L249.00 195.88 L249.75 196.00 L250.50 196.14 L251.25 196.29 L252.00 196.44 L252.75 196.64 L253.50 196.89 L254.25 197.19 L255.00 197.52 L255.75 197.89 L256.50 198.29 L257.25 198.71 L258.00 199.15 L258.75 199.60 L259.50 200.06 L260.25 200.55 L261.00 201.07 L261.75 201.63 L262.50 202.23 L263.25 202.88 L264.00 203.58 L264.75 204.32 L265.50 205.12 L266.25 205.98 L267.00 206.98 L267.75 208.15 L268.50 209.44 L269.25 210.81 L270.00 212.22 L270.75 213.63 L271.50 215.00 L272.25 216.34 L273.00 217.69 L273.75 219.05 L274.50 220.43 L275.25 221.83 L276.00 223.26 L276.75 224.71 L277.50 226.20 L278.25 227.73 L279.00 229.34 L279.75 231.01 L280.50 232.71 L281.25 234.42 L282.00 236.12 L282.75 237.78 L283.50 239.38 L284.25 240.91 L285.00 242.39 L285.75 243.84 L286.50 245.26 L287.25 246.65 L288.00 248.03 L288.75 249.40 L289.50 250.76 L290.25 252.15 L291.00 253.54 L291.75 254.93 L292.50 256.28 L293.25 257.57 L294.00 258.77 L294.75 259.87 L295.50 260.89 L296.25 261.85 L297.00 262.78 L297.75 263.66 L298.50 264.51 L299.25 265.32 L300.00 266.10 L300.75 266.86 L301.50 267.60 L302.25 268.32 L303.00 269.02 L303.75 269.70 L304.50 270.36 L305.25 270.99 L306.00 271.61 L306.75 272.20 L307.50 272.76 L308.25 273.30 L309.00 273.81 L309.75 274.30 L310.50 274.78 L311.25 275.23 L312.00 275.66 L312.75 276.07 L313.50 276.45 L313.80 276.60" fill="none" stroke="#1a1a1a" stroke-width="1.8" stroke-linejoin="round"/>
<path d="M242.80 206.90V212.50M240.30 206.90H245.30M240.30 212.50H245.30" stroke="#888" stroke-width="1.1" fill="none"/>
<path d="M254.00 218.30V225.60M251.50 218.30H256.50M251.50 225.60H256.50" stroke="#888" stroke-width="1.1" fill="none"/>
<path d="M266.10 244.40V252.90M263.60 244.40H268.60M263.60 252.90H268.60" stroke="#888" stroke-width="1.1" fill="none"/>
<path d="M242.80 191.50V199.00M240.30 191.50H245.30M240.30 199.00H245.30" stroke="#555" stroke-width="1.1" fill="none"/>
<path d="M254.10 186.00V206.00M251.60 186.00H256.60M251.60 206.00H256.60" stroke="#555" stroke-width="1.1" fill="none"/>
<path d="M266.20 198.70V212.90M263.70 198.70H268.70M263.70 212.90H268.70" stroke="#555" stroke-width="1.1" fill="none"/>
<path d="M278.00 222.40V229.20M275.50 222.40H280.50M275.50 229.20H280.50" stroke="#555" stroke-width="1.1" fill="none"/>
<path d="M301.20 264.00V272.00M298.70 264.00H303.70M298.70 272.00H303.70" stroke="#555" stroke-width="1.1" fill="none"/>
<circle cx="242.80" cy="195.30" r="2.9" fill="#1a1a1a"/>
<circle cx="254.10" cy="195.90" r="2.9" fill="#1a1a1a"/>
<circle cx="266.20" cy="205.90" r="2.9" fill="#1a1a1a"/>
<circle cx="278.00" cy="226.30" r="2.9" fill="#1a1a1a"/>
<circle cx="290.00" cy="250.40" r="2.9" fill="#1a1a1a"/>
<circle cx="301.20" cy="268.00" r="2.9" fill="#1a1a1a"/>
<circle cx="313.80" cy="276.80" r="2.9" fill="#1a1a1a"/>
<circle cx="242.80" cy="209.70" r="2.9" fill="#9a9a9a"/>
<circle cx="254.00" cy="222.20" r="2.9" fill="#9a9a9a"/>
<circle cx="266.10" cy="248.70" r="2.9" fill="#9a9a9a"/>
<circle cx="277.50" cy="273.50" r="2.9" fill="#9a9a9a"/>
<circle cx="289.60" cy="282.40" r="2.9" fill="#9a9a9a"/>
<circle cx="301.20" cy="284.50" r="2.9" fill="#9a9a9a"/>
<circle cx="313.80" cy="285.60" r="2.9" fill="#9a9a9a"/>
<circle cx="218.60" cy="195.50" r="3.3" fill="#a6a6a6"/>
<text x="266.1" y="185.6" font-size="11.9" text-anchor="start" fill="#222" color="#222" >siA-E6-2 : IC<tspan font-size="8.2" dx="0.5" dy="2.4" fill="#3a3a3a" color="#3a3a3a">50</tspan></text>
<text x="291.5" y="206.2" font-size="11.5" text-anchor="start" fill="#999" color="#999" >WT</text>
<text x="316.3" y="206.2" font-size="11.5" text-anchor="middle" fill="#222" color="#222" >:</text>
<text x="320.6" y="206.2" font-size="11.5" text-anchor="start" fill="#222" color="#222" >0.007</text>
<text x="291" y="219.1" font-size="11.5" text-anchor="start" fill="#222" color="#222" >6Ø</text>
<text x="316.3" y="219.1" font-size="11.5" text-anchor="middle" fill="#222" color="#222" >:</text>
<text x="320.6" y="219.1" font-size="11.5" text-anchor="start" fill="#222" color="#222" >0.051</text>
<text x="320.6" y="230.5" font-size="11.5" text-anchor="start" fill="#222" color="#222" >(nM)</text>
<path d="M276.5 202.6H286.7" stroke="#999" stroke-width="1.8"/>
<path d="M276.5 216H286.7" stroke="#1a1a1a" stroke-width="1.8"/>
<text x="177.8" y="179.1" font-size="13" text-anchor="start" fill="#111" color="#111" font-weight="bold">E</text>
<path d="M384.8 175.2V293.3H506.5" fill="none" stroke="#4d4d4d" stroke-width="1.4"/>
<path d="M381.40000000000003 293.30H384.8" stroke="#4d4d4d" stroke-width="1.2"/>
<text x="374.2" y="297.3" font-size="11.3" text-anchor="end" fill="#222" color="#222" >0</text>
<path d="M381.40000000000003 273.60H384.8" stroke="#4d4d4d" stroke-width="1.2"/>
<text x="374.2" y="277.6" font-size="11.3" text-anchor="end" fill="#222" color="#222" >20</text>
<path d="M381.40000000000003 253.90H384.8" stroke="#4d4d4d" stroke-width="1.2"/>
<text x="374.2" y="257.9" font-size="11.3" text-anchor="end" fill="#222" color="#222" >40</text>
<path d="M381.40000000000003 234.20H384.8" stroke="#4d4d4d" stroke-width="1.2"/>
<text x="374.2" y="238.20000000000002" font-size="11.3" text-anchor="end" fill="#222" color="#222" >60</text>
<path d="M381.40000000000003 214.50H384.8" stroke="#4d4d4d" stroke-width="1.2"/>
<text x="374.2" y="218.5" font-size="11.3" text-anchor="end" fill="#222" color="#222" >80</text>
<path d="M381.40000000000003 194.80H384.8" stroke="#4d4d4d" stroke-width="1.2"/>
<text x="374.2" y="198.8" font-size="11.3" text-anchor="end" fill="#222" color="#222" >100</text>
<path d="M384.80 293.3V296.90000000000003" stroke="#4d4d4d" stroke-width="1.2"/>
<path d="M408.45 293.3V296.90000000000003" stroke="#4d4d4d" stroke-width="1.2"/>
<path d="M432.10 293.3V296.90000000000003" stroke="#4d4d4d" stroke-width="1.2"/>
<path d="M455.75 293.3V296.90000000000003" stroke="#4d4d4d" stroke-width="1.2"/>
<path d="M479.40 293.3V296.90000000000003" stroke="#4d4d4d" stroke-width="1.2"/>
<path d="M503.05 293.3V296.90000000000003" stroke="#4d4d4d" stroke-width="1.2"/>
<text x="381.3" y="314.3" font-size="11.5" text-anchor="middle" fill="#222" color="#222" >0</text>
<text x="402.7" y="314.3" font-size="11.5" text-anchor="middle" fill="#222" color="#222" >0.001</text>
<text x="433.5" y="314.3" font-size="11.5" text-anchor="middle" fill="#222" color="#222" >0.01</text>
<text x="456.3" y="314.3" font-size="11.5" text-anchor="middle" fill="#222" color="#222" >0.1</text>
<text x="477.1" y="314.3" font-size="11.5" text-anchor="middle" fill="#222" color="#222" >1</text>
<text x="499.3" y="314.3" font-size="11.5" text-anchor="middle" fill="#222" color="#222" >10</text>
<text x="376.6" y="312.8" font-size="11.5" text-anchor="end" fill="#222" color="#222" >(nM)</text>
<path d="M384.8 183.2H387.40000000000003" stroke="#444" stroke-width="1.1"/>
<path d="M384.8 186.8H387.40000000000003" stroke="#444" stroke-width="1.1"/>
<path d="M384.8 202.6H387.40000000000003" stroke="#444" stroke-width="1.1"/>
<path d="M384.8 206.2H387.40000000000003" stroke="#444" stroke-width="1.1"/>
<path d="M384.80 194.80 L385.55 194.83 L386.30 194.88 L387.05 194.96 L387.80 195.06 L388.55 195.18 L389.30 195.32 L390.05 195.46 L390.80 195.62 L391.55 195.78 L392.30 195.95 L393.05 196.14 L393.80 196.37 L394.55 196.63 L395.30 196.92 L396.05 197.24 L396.80 197.59 L397.55 197.96 L398.30 198.35 L399.05 198.80 L399.80 199.30 L400.55 199.86 L401.30 200.47 L402.05 201.13 L402.80 201.82 L403.55 202.55 L404.30 203.30 L405.05 204.12 L405.80 205.01 L406.55 205.97 L407.30 206.99 L408.05 208.07 L408.80 209.20 L409.55 210.40 L410.30 211.68 L411.05 213.05 L411.80 214.48 L412.55 215.97 L413.30 217.50 L414.05 219.11 L414.80 220.83 L415.55 222.61 L416.30 224.40 L417.05 226.17 L417.80 227.96 L418.55 229.80 L419.30 231.73 L420.05 233.80 L420.80 236.00 L421.55 238.28 L422.30 240.59 L423.05 242.87 L423.80 245.08 L424.55 247.29 L425.30 249.49 L426.05 251.67 L426.80 253.79 L427.55 255.84 L428.30 257.82 L429.05 259.79 L429.80 261.73 L430.55 263.57 L431.30 265.28 L432.05 266.81 L432.80 268.17 L433.55 269.44 L434.30 270.62 L435.05 271.70 L435.80 272.69 L436.55 273.59 L437.30 274.42 L438.05 275.19 L438.80 275.92 L439.55 276.61 L440.30 277.26 L441.05 277.89 L441.80 278.49 L442.55 279.08 L443.30 279.67 L444.05 280.25 L444.80 280.82 L445.55 281.37 L446.30 281.89 L447.05 282.38 L447.80 282.84 L448.55 283.24 L449.30 283.59 L450.05 283.91 L450.80 284.22 L451.55 284.52 L452.30 284.79 L453.05 285.03 L453.80 285.25 L454.55 285.43 L455.30 285.58 L456.05 285.70 L456.80 285.82 L457.55 285.92 L458.30 286.02 L459.05 286.12 L459.80 286.20 L460.55 286.28 L461.30 286.36 L462.05 286.42 L462.80 286.49 L463.55 286.54 L464.30 286.60 L465.05 286.65 L465.80 286.69 L466.55 286.73 L467.30 286.77 L468.05 286.80 L468.80 286.84 L469.55 286.87 L470.30 286.90 L471.05 286.93 L471.80 286.95 L472.55 286.98 L473.30 287.00 L474.05 287.03 L474.80 287.05 L475.55 287.07 L476.30 287.09 L477.05 287.11 L477.80 287.14 L478.55 287.16 L479.30 287.18 L480.05 287.20 L480.80 287.22 L481.55 287.25 L482.30 287.27 L483.05 287.29 L483.80 287.31 L484.55 287.33 L485.30 287.36 L486.05 287.38 L486.80 287.40 L487.55 287.42 L488.30 287.44 L489.05 287.46 L489.80 287.48 L490.55 287.50 L491.30 287.52 L492.05 287.54 L492.80 287.56 L493.55 287.58 L494.30 287.60 L495.05 287.62 L495.80 287.63 L496.55 287.65 L497.30 287.67 L498.05 287.69 L498.80 287.70 L499.55 287.72 L500.30 287.74 L501.05 287.75 L501.80 287.77 L502.55 287.78 L503.30 287.80 L503.50 287.80" fill="none" stroke="#999" stroke-width="1.55" stroke-linejoin="round"/>
<path d="M384.80 194.80 L385.55 194.80 L386.30 194.82 L387.05 194.83 L387.80 194.86 L388.55 194.89 L389.30 194.93 L390.05 194.97 L390.80 195.01 L391.55 195.06 L392.30 195.11 L393.05 195.19 L393.80 195.29 L394.55 195.42 L395.30 195.57 L396.05 195.73 L396.80 195.92 L397.55 196.12 L398.30 196.33 L399.05 196.58 L399.80 196.87 L400.55 197.22 L401.30 197.60 L402.05 198.03 L402.80 198.48 L403.55 198.96 L404.30 199.47 L405.05 200.04 L405.80 200.69 L406.55 201.41 L407.30 202.19 L408.05 203.03 L408.80 203.90 L409.55 204.83 L410.30 205.84 L411.05 206.93 L411.80 208.11 L412.55 209.36 L413.30 210.70 L414.05 212.19 L414.80 213.86 L415.55 215.65 L416.30 217.50 L417.05 219.39 L417.80 221.37 L418.55 223.45 L419.30 225.69 L420.05 228.16 L420.80 230.91 L421.55 233.80 L422.30 236.73 L423.05 239.56 L423.80 242.18 L424.55 244.67 L425.30 247.10 L426.05 249.46 L426.80 251.75 L427.55 253.97 L428.30 256.16 L429.05 258.37 L429.80 260.55 L430.55 262.61 L431.30 264.49 L432.05 266.10 L432.80 267.49 L433.55 268.75 L434.30 269.90 L435.05 270.95 L435.80 271.91 L436.55 272.78 L437.30 273.60 L438.05 274.36 L438.80 275.08 L439.55 275.75 L440.30 276.40 L441.05 277.01 L441.80 277.61 L442.55 278.19 L443.30 278.76 L444.05 279.32 L444.80 279.88 L445.55 280.41 L446.30 280.92 L447.05 281.40 L447.80 281.85 L448.55 282.24 L449.30 282.59 L450.05 282.91 L450.80 283.22 L451.55 283.51 L452.30 283.78 L453.05 284.02 L453.80 284.24 L454.55 284.43 L455.30 284.58 L456.05 284.71 L456.80 284.84 L457.55 284.95 L458.30 285.06 L459.05 285.17 L459.80 285.26 L460.55 285.35 L461.30 285.44 L462.05 285.51 L462.80 285.58 L463.55 285.65 L464.30 285.70 L465.05 285.75 L465.80 285.79 L466.55 285.83 L467.30 285.86 L468.05 285.89 L468.80 285.92 L469.55 285.95 L470.30 285.97 L471.05 286.00 L471.80 286.02 L472.55 286.05 L473.30 286.07 L474.05 286.09 L474.80 286.10 L475.55 286.12 L476.30 286.14 L477.05 286.15 L477.80 286.17 L478.55 286.18 L479.30 286.19 L480.05 286.20 L480.80 286.21 L481.55 286.22 L482.30 286.23 L483.05 286.24 L483.80 286.25 L484.55 286.26 L485.30 286.27 L486.05 286.28 L486.80 286.29 L487.55 286.30 L488.30 286.30 L489.05 286.31 L489.80 286.32 L490.55 286.33 L491.30 286.34 L492.05 286.34 L492.80 286.35 L493.55 286.36 L494.30 286.36 L495.05 286.37 L495.80 286.37 L496.55 286.38 L497.30 286.38 L498.05 286.39 L498.80 286.39 L499.55 286.39 L500.30 286.40 L501.05 286.40 L501.80 286.40 L502.55 286.40 L503.30 286.40 L503.50 286.40" fill="none" stroke="#1a1a1a" stroke-width="1.8" stroke-linejoin="round"/>
<path d="M419.40 229.00V238.20M416.90 229.00H421.90M416.90 238.20H421.90" stroke="#888" stroke-width="1.1" fill="none"/>
<path d="M431.70 260.60V270.00M429.20 260.60H434.20M429.20 270.00H434.20" stroke="#888" stroke-width="1.1" fill="none"/>
<path d="M442.90 274.20V282.00M440.40 274.20H445.40M440.40 282.00H445.40" stroke="#888" stroke-width="1.1" fill="none"/>
<path d="M419.50 215.80V236.00M417.00 215.80H422.00M417.00 236.00H422.00" stroke="#555" stroke-width="1.1" fill="none"/>
<circle cx="419.50" cy="226.30" r="2.9" fill="#1a1a1a"/>
<circle cx="431.90" cy="265.80" r="2.9" fill="#1a1a1a"/>
<circle cx="443.10" cy="276.00" r="2.9" fill="#1a1a1a"/>
<circle cx="503.10" cy="285.60" r="2.9" fill="#1a1a1a"/>
<circle cx="419.40" cy="233.40" r="2.9" fill="#9a9a9a"/>
<circle cx="431.70" cy="263.20" r="2.9" fill="#9a9a9a"/>
<circle cx="442.90" cy="279.10" r="2.9" fill="#9a9a9a"/>
<circle cx="455.50" cy="285.00" r="2.9" fill="#9a9a9a"/>
<circle cx="467.00" cy="286.10" r="2.9" fill="#9a9a9a"/>
<circle cx="479.20" cy="286.50" r="2.9" fill="#9a9a9a"/>
<circle cx="503.10" cy="287.60" r="2.9" fill="#9a9a9a"/>
<circle cx="384.60" cy="194.70" r="3.3" fill="#a6a6a6"/>
<text x="490.6" y="188" font-size="11.9" text-anchor="end" fill="#222" color="#222" >siA-E6-7 : IC<tspan font-size="8.2" dx="0.5" dy="2.4" fill="#3a3a3a" color="#3a3a3a">50</tspan></text>
<text x="440.9" y="210.6" font-size="11.5" text-anchor="start" fill="#999" color="#999" >WT</text>
<text x="465.2" y="210.6" font-size="11.5" text-anchor="middle" fill="#222" color="#222" >:</text>
<text x="470" y="210.6" font-size="11.5" text-anchor="start" fill="#222" color="#222" >0.004</text>
<text x="440.9" y="222.7" font-size="11.5" text-anchor="start" fill="#222" color="#222" >6Ø</text>
<text x="465.2" y="222.7" font-size="11.5" text-anchor="middle" fill="#222" color="#222" >:</text>
<text x="470" y="222.7" font-size="11.5" text-anchor="start" fill="#222" color="#222" >0.005</text>
<text x="470" y="235.3" font-size="11.5" text-anchor="start" fill="#222" color="#222" >(nM)</text>
<path d="M424.9 206.2H434.6" stroke="#999" stroke-width="1.8"/>
<path d="M424.9 218.4H434.6" stroke="#1a1a1a" stroke-width="1.8"/>
<text x="358" y="178.6" font-size="13" text-anchor="start" fill="#111" color="#111" font-weight="bold">F</text>
</g>
</svg></body></html>
